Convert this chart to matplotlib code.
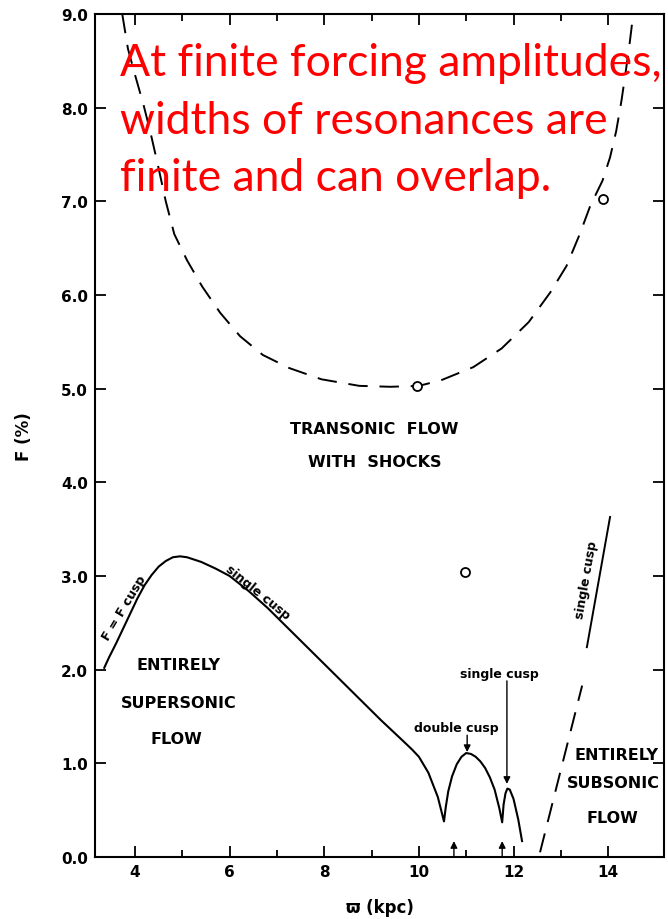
import matplotlib
matplotlib.use('Agg')
import matplotlib.pyplot as plt

# dashed boundary of the shocked (transonic) region
shock_r = [3.73, 3.85, 4.0, 4.18, 4.32, 4.5, 4.65, 4.83, 5.1, 5.42, 5.8, 6.22,
           6.7, 7.26, 7.94, 8.74, 9.4, 10.0, 10.47, 11.15, 11.75, 12.32, 12.78,
           13.12, 13.4, 13.62, 13.88, 14.04, 14.17, 14.28, 14.37, 14.45, 14.53]
shock_f = [9.0, 8.63, 8.35, 8.03, 7.75, 7.35, 7.0, 6.65, 6.37, 6.09, 5.81, 5.56,
           5.36, 5.22, 5.1, 5.03, 5.02, 5.03, 5.09, 5.23, 5.43, 5.71, 6.03,
           6.31, 6.65, 6.95, 7.22, 7.47, 7.75, 8.07, 8.38, 8.67, 9.0]

# cusp boundary (solid), three arches
cusp_r = [3.35, 3.45, 3.6, 3.75, 3.9, 4.05, 4.2, 4.35, 4.5, 4.65, 4.8, 4.95,
          5.1, 5.4, 5.7, 6.0, 6.4, 6.8, 7.2, 7.6, 8.0, 8.4, 8.8, 9.2, 9.6,
          9.85, 10.0, 10.2, 10.4, 10.53,
          10.57, 10.62, 10.7, 10.8, 10.9, 11.0, 11.1, 11.2, 11.3, 11.4, 11.5,
          11.6, 11.7, 11.76, 11.79, 11.83, 11.87, 11.92, 12.0, 12.1, 12.18]
cusp_f = [2.02, 2.13, 2.28, 2.44, 2.6, 2.76, 2.9, 3.01, 3.1, 3.16, 3.2, 3.21,
          3.2, 3.15, 3.08, 3.0, 2.84, 2.66, 2.46, 2.26, 2.06, 1.86, 1.66, 1.46,
          1.27, 1.15, 1.07, 0.9, 0.64, 0.38,
          0.54, 0.7, 0.86, 0.99, 1.07, 1.11, 1.1, 1.07, 1.02, 0.95, 0.85,
          0.72, 0.52, 0.37, 0.56, 0.68, 0.73, 0.72, 0.62, 0.4, 0.17]

# subsonic limit (dashed) and the single-cusp segment above it
sub_r = [12.56, 13.45]
sub_f = [0.05, 1.83]
single_r = [13.55, 14.04]
single_f = [2.24, 3.63]

# computed models
model_r = [9.96, 10.98, 13.9]
model_f = [5.03, 3.04, 7.02]

# resonance positions marked on the axis
res_r = [10.74, 11.76]

plt.rcParams['lines.scale_dashes'] = False

fig = plt.figure(figsize=(6.68, 9.2), dpi=100)
fig.patch.set_facecolor('white')
ax = fig.add_axes([0.1422, 0.0674, 0.8518, 0.9163])

dash = (0, (14, 8.5))
ax.plot(shock_r, shock_f, color='k', lw=1.4, linestyle=dash)
ax.plot(cusp_r, cusp_f, color='k', lw=1.5)
ax.plot(sub_r, sub_f, color='k', lw=1.4, linestyle=dash)
ax.plot(single_r, single_f, color='k', lw=1.4)
ax.plot(model_r, model_f, 'o', mfc='white', mec='k', mew=1.3, ms=6.5)

arrow = dict(arrowstyle='-|>', color='k', lw=1.0, mutation_scale=10,
             shrinkA=0, shrinkB=0)
for r in res_r:
    ax.annotate('', xy=(r, 0.17), xytext=(r, 0.0), arrowprops=arrow)
ax.annotate('', xy=(11.02, 1.12), xytext=(11.02, 1.3), arrowprops=arrow)
ax.annotate('', xy=(11.86, 0.78), xytext=(11.86, 1.88), arrowprops=arrow)

bold = dict(fontweight='bold', color='k', ha='center', va='center')
ax.text(9.06, 4.57, 'TRANSONIC  FLOW', fontsize=11.5, **bold)
ax.text(9.06, 4.22, 'WITH  SHOCKS', fontsize=11.5, **bold)
ax.text(4.91, 2.05, 'ENTIRELY', fontsize=11.5, **bold)
ax.text(4.93, 1.65, 'SUPERSONIC', fontsize=11.5, **bold)
ax.text(4.88, 1.26, 'FLOW', fontsize=11.5, **bold)
ax.text(14.17, 1.09, 'ENTIRELY', fontsize=11.5, **bold)
ax.text(14.1, 0.79, 'SUBSONIC', fontsize=11.5, **bold)
ax.text(14.08, 0.42, 'FLOW', fontsize=11.5, **bold)

small = dict(fontsize=9, fontweight='bold', color='k', ha='center', va='center',
             rotation_mode='anchor')
ax.text(10.8, 1.38, 'double cusp', **small)
ax.text(11.7, 1.96, 'single cusp', **small)
ax.text(3.77, 2.67, 'F = F cusp', rotation=59, **small)
ax.text(6.6, 2.83, 'single cusp', rotation=-39, **small)
ax.text(13.54, 2.97, 'single cusp', rotation=80, **small)

ax.set_xlim(3.154, 15.18)
ax.set_ylim(0, 9)
ax.set_xticks([4, 6, 8, 10, 12, 14])
ax.set_xticks([5, 7, 9, 11, 13], minor=True)
ax.set_yticks([0, 1, 2, 3, 4, 5, 6, 7, 8, 9])
ax.set_yticklabels(['%.1f' % v for v in range(10)])
ax.tick_params(which='both', direction='in', top=True, right=True, width=1.3,
               labelsize=11)
ax.tick_params(which='major', length=8, pad=5)
ax.tick_params(which='minor', length=5)
for lab in ax.get_xticklabels() + ax.get_yticklabels():
    lab.set_fontweight('bold')
for sp in ax.spines.values():
    sp.set_linewidth(1.5)

ax.set_xlabel('\u03d6 (kpc)', fontsize=12, fontweight='bold', labelpad=14)
ax.set_ylabel('F (%)', fontsize=12, fontweight='bold', labelpad=20)

fig.text(0.1796, 0.953, 'At finite forcing amplitudes,\nwidths of resonances are\n'
         'finite and can overlap.', color='#ff0000', fontsize=32, family='Lato',
         ha='left', va='top', linespacing=1.5)

fig.savefig('out.png', dpi=100)
